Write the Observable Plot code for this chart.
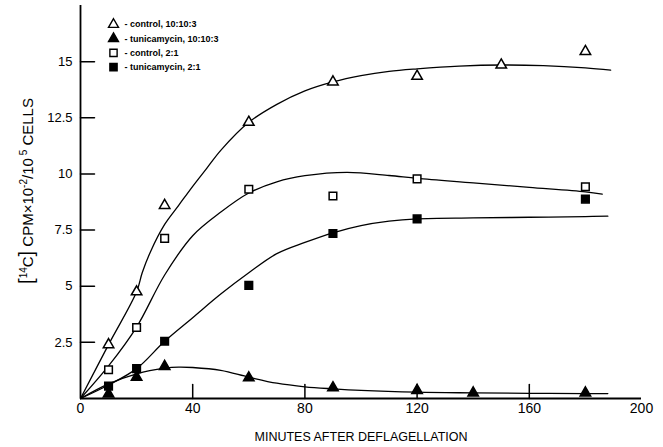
<!DOCTYPE html>
<html><head><meta charset="utf-8">
<script src="https://cdn.jsdelivr.net/npm/d3@7"></script>
<script src="https://cdn.jsdelivr.net/npm/@observablehq/plot@0.6"></script>
<style>
html,body{margin:0;padding:0;background:#fff;color:#000;}
#chart svg{font-family:'Liberation Sans', Arial, Helvetica, sans-serif;background:#fff;}
</style></head><body><div id="chart"></div>
<script>
// ---- tick labels ----
const xTickLabels = [0, 40, 80, 120, 160, 200];
const xInnerTicks = [40, 80, 120, 160];
const yTickLabels = [2.5, 5, 7.5, 10, 12.5, 15];

// ---- measured points ----
const ctl10Min = [10, 20, 30, 60, 90, 120, 150, 180];
const ctl10Val = [2.4, 4.75, 8.6, 12.3, 14.1, 14.35, 14.85, 15.45];
const tun10Min = [10, 20, 30, 60, 90, 120, 140, 180];
const tun10Val = [0.2, 0.95, 1.43, 0.92, 0.48, 0.36, 0.25, 0.25];
const ctl21Min = [10, 20, 30, 60, 90, 120, 180];
const ctl21Val = [1.28, 3.16, 7.13, 9.32, 9.02, 9.78, 9.43];
const tun21Min = [10, 20, 30, 60, 90, 120, 180];
const tun21Val = [0.55, 1.33, 2.55, 5.04, 7.35, 8.0, 8.88];

// ---- hand-drawn fitted curves ----
const fitCtl10Min = [0, 10, 20, 22, 25, 30, 35, 40, 45, 50, 60, 70, 80, 90, 100, 110, 120, 135, 150, 165, 180, 189];
const fitCtl10Val = [0, 2.4, 4.75, 5.6, 6.55, 7.75, 8.6, 9.45, 10.25, 11.05, 12.3, 13.1, 13.7, 14.1, 14.38, 14.57, 14.68, 14.8, 14.85, 14.82, 14.72, 14.62];
const fitCtl21Min = [0, 10, 20, 30, 40, 50, 60, 70, 80, 95, 110, 120, 140, 160, 180, 186];
const fitCtl21Val = [0, 1.45, 3.18, 5.5, 7.25, 8.3, 9.15, 9.65, 9.92, 10.07, 9.93, 9.8, 9.6, 9.4, 9.2, 9.1];
const fitTun21Min = [0, 10, 20, 30, 40, 50, 60, 70, 80, 90, 100, 110, 120, 140, 160, 180, 188];
const fitTun21Val = [0, 0.6, 1.33, 2.55, 3.6, 4.65, 5.6, 6.45, 6.95, 7.38, 7.7, 7.9, 8.0, 8.04, 8.07, 8.1, 8.12];
const fitTun10Min = [0, 10, 20, 30, 35, 40, 50, 60, 70, 80, 90, 100, 120, 140, 160, 180, 188];
const fitTun10Val = [0, 0.65, 1.1, 1.35, 1.4, 1.38, 1.25, 0.95, 0.68, 0.52, 0.43, 0.36, 0.28, 0.25, 0.23, 0.22, 0.22];

// ---- series / legend ----
const seriesKeys = ["ctl10", "tun10", "ctl21", "tun21"];
const seriesLabels = ["- control, 10:10:3", "- tunicamycin, 10:10:3", "- control, 2:1", "- tunicamycin, 2:1"];
const xTitle = "MINUTES AFTER DEFLAGELLATION";
const yTitle = "[14C] CPM×10-2/10 5 CELLS";

// ---- layout ----
const W = 663, H = 447, ML = 80, MR = 22, MT = 5, MB = 49;
const xDomain = [0, 200], yDomain = [0, 17.5];
const tickPx = 14;
// tick length expressed in each scale's units (derived from the layout)
const tickLenX = tickPx * (xDomain[1] - xDomain[0]) / (W - ML - MR);
const tickLenY = tickPx * (yDomain[1] - yDomain[0]) / (H - MT - MB);

const style = {
  ctl10: {symbol: "triangle", fill: "white", r: 3.9},
  tun10: {symbol: "triangle", fill: "black", r: 3.9},
  ctl21: {symbol: "square", fill: "white", r: 4.3},
  tun21: {symbol: "square", fill: "black", r: 4.3}
};

const zip = (key, ms, vs) => ms.map((m, i) => ({key, t: m, v: vs[i]}));
const points = {
  ctl10: zip("ctl10", ctl10Min, ctl10Val),
  tun10: zip("tun10", tun10Min, tun10Val),
  ctl21: zip("ctl21", ctl21Min, ctl21Val),
  tun21: zip("tun21", tun21Min, tun21Val)
};
const fits = [
  ...zip("ctl10", fitCtl10Min, fitCtl10Val),
  ...zip("tun10", fitTun10Min, fitTun10Val),
  ...zip("ctl21", fitCtl21Min, fitCtl21Val),
  ...zip("tun21", fitTun21Min, fitTun21Val)
];
// inward tick segments built from the tick arrays
const tickSegs = [
  ...xInnerTicks.flatMap(t => [{key: "x" + t, t, v: 0}, {key: "x" + t, t, v: tickLenY}]),
  ...yTickLabels.flatMap(v => [{key: "y" + v, t: 0, v}, {key: "y" + v, t: tickLenX, v}])
];

const dotMarks = seriesKeys.map(k => Plot.dot(points[k], {
  x: "t", y: "v", symbol: () => style[k].symbol, r: style[k].r,
  fill: style[k].fill, stroke: "black", strokeWidth: 1.5
}));

const legendMarks = seriesKeys.flatMap((k, i) => [
  Plot.dot([k], {frameAnchor: "top-left", dx: 33, dy: 19 + i * 14.2,
    symbol: () => style[k].symbol, r: style[k].r * 0.95, fill: style[k].fill, stroke: "black", strokeWidth: 1.4}),
  Plot.text([seriesLabels[i]], {frameAnchor: "top-left", dx: 44, dy: 19 + i * 14.2,
    text: d => d, textAnchor: "start", lineAnchor: "middle", fontSize: 9, fontWeight: "bold"})
]);

const chart = Plot.plot({
  width: W, height: H,
  marginLeft: ML, marginRight: MR, marginTop: MT, marginBottom: MB,
  x: {domain: xDomain},
  y: {domain: yDomain},
  marks: [
    Plot.axisX({ticks: xTickLabels, tickSize: 0, tickPadding: 5, fontSize: 14, label: null}),
    Plot.axisY({ticks: yTickLabels, tickSize: 0, tickPadding: 8, fontSize: 13, label: null, tickFormat: d => String(d)}),
    Plot.line(fits, {x: "t", y: "v", z: "key", curve: "catmull-rom", stroke: "black", strokeWidth: 1.3}),
    ...dotMarks,
    ...legendMarks,
    Plot.text([xTitle], {frameAnchor: "bottom", dy: 42, text: d => d, fontSize: 12.5, lineAnchor: "bottom"}),
    Plot.text([yTitle], {frameAnchor: "left", dx: -52, dy: -11, rotate: -90, textAnchor: "middle", text: d => d, fontSize: 15, lineAnchor: "middle"}),
    // axes and inward ticks
    Plot.ruleY([0], {strokeWidth: 1.8, stroke: "black"}),
    Plot.ruleX([0], {strokeWidth: 1.8, stroke: "black"}),
    Plot.line(tickSegs, {x: "t", y: "v", z: "key", stroke: "black", strokeWidth: 1.5})
  ]
});

// superscripts for the y title
d3.select(chart).selectAll("text").filter(function () { return this.textContent === yTitle; }).each(function () {
  const t = d3.select(this);
  t.text(null);
  const parts = [
    {s: "[", size: 20, dy: 0},
    {s: "14", size: 10, dy: -6},
    {s: "C", size: 15, dy: 6},
    {s: "]", size: 20, dy: 0},
    {s: " CPM×10", size: 15, dy: 0},
    {s: "-2", size: 10, dy: -6},
    {s: "/10", size: 15, dy: 6},
    {s: " 5", size: 10, dy: -6},
    {s: " CELLS", size: 15, dy: 6}
  ];
  parts.forEach(p => t.append("tspan").attr("font-size", p.size).attr("dy", p.dy).text(p.s));
});

document.getElementById("chart").appendChild(chart);
</script>
</body></html>
